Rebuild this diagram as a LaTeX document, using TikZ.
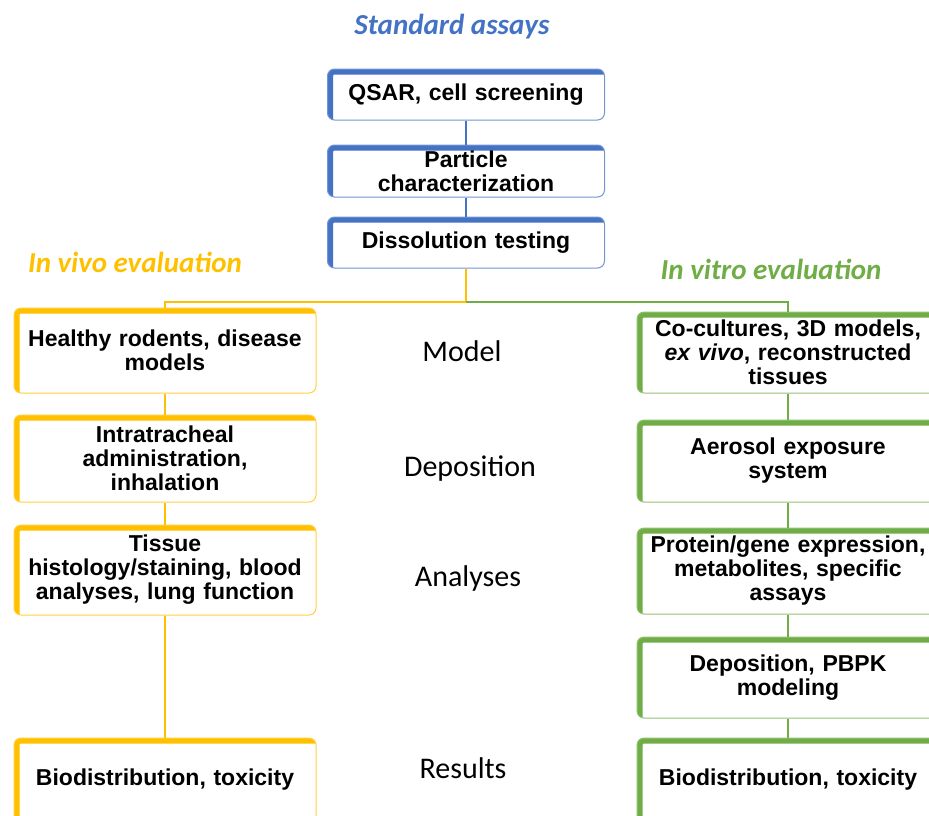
\documentclass[tikz,border=0pt]{standalone}
\usepackage{fontspec}
\setmainfont{Liberation Sans}
\newfontfamily\calibri{Carlito}
\usetikzlibrary{positioning}
\definecolor{assayblue}{HTML}{4472C4}
\definecolor{vivogold}{HTML}{FFC000}
\definecolor{vitrogreen}{HTML}{70AD47}

\tikzset{
  card/.style={draw=#1!75, line width=1pt, rounded corners=7pt, fill=white,
    minimum width=302pt, text width=294pt, align=center, inner sep=2pt,
    font=\bfseries\fontsize{23}{24}\selectfont,
    path picture={\draw[#1, line width=11pt]
      (path picture bounding box.south west) -- (path picture bounding box.north west)
      -- (path picture bounding box.north east);}},
  link/.style={draw=#1, line width=1.5pt},
  stage/.style={font=\calibri\fontsize{30}{32}\selectfont},
  heading/.style={font=\calibri\bfseries\itshape\fontsize{29}{31}\selectfont, text=#1},
}

\begin{document}
\begin{tikzpicture}[x=1pt, y=-1pt]
  \useasboundingbox (0,0) rectangle (929,815);
  \clip (0,0) rectangle (929,815);

  % headings
  \node[heading=assayblue] (stdtitle) at (452,27) {Standard assays};
  \node[heading=vivogold] (vivotitle) at (135,262) {In vivo evaluation};
  \node[heading=vitrogreen] (vitrotitle) at (771,269) {In vitro evaluation};

  % standard assays column
  \node[card=assayblue, minimum width=277pt, text width=270pt, minimum height=51pt]
    (qsar) at (466,94.5) {QSAR, cell screening};
  \node[card=assayblue, minimum width=277pt, text width=270pt, minimum height=52pt]
    (particle) at (466,171) {Particle\\characterization};
  \node[card=assayblue, minimum width=277pt, text width=270pt, minimum height=51pt]
    (dissolution) at (466,242.5) {Dissolution testing};

  % in vivo column
  \node[card=vivogold, minimum height=85pt] (healthy) at (165,350.5)
    {Healthy rodents, disease\\models};
  \node[card=vivogold, minimum height=87pt] (intratracheal) at (165,458.5)
    {Intratracheal\\administration,\\inhalation};
  \node[card=vivogold, minimum height=90pt] (tissue) at (165,570)
    {Tissue\\histology/staining, blood\\analyses, lung function};
  \node[card=vivogold, minimum height=84pt] (vivobio) at (165,780)
    {Biodistribution, toxicity};

  % in vitro column
  \node[card=vitrogreen, minimum height=81pt] (coculture) at (788,352.5)
    {Co-cultures, 3D models,\\\textit{ex vivo}, reconstructed\\tissues};
  \node[card=vitrogreen, minimum height=82pt] (aerosol) at (788,461)
    {Aerosol exposure\\system};
  \node[card=vitrogreen, minimum height=86pt] (protein) at (788,571)
    {Protein/gene expression,\\metabolites, specific\\assays};
  \node[card=vitrogreen, minimum height=81pt] (pbpk) at (788,677.5)
    {Deposition, PBPK\\modeling};
  \node[card=vitrogreen, minimum height=84pt] (vitrobio) at (788,780)
    {Biodistribution, toxicity};

  % stage labels
  \node[stage] (model) at (462,351) {Model};
  \node[stage] (deposition) at (470,469) {Deposition};
  \node[stage] (analyses) at (468,578) {Analyses};
  \node[stage] (results) at (463,768) {Results};

  % connectors
  \coordinate (fork) at (466,302);
  \draw[link=assayblue] (qsar) -- (particle);
  \draw[link=assayblue] (particle) -- (dissolution);
  \draw[link=vivogold] (dissolution) -- (fork) -| (healthy);
  \draw[link=vitrogreen] (fork) -| (coculture);
  \draw[link=vivogold] (healthy) -- (intratracheal);
  \draw[link=vivogold] (intratracheal) -- (tissue);
  \draw[link=vivogold] (tissue) -- (vivobio);
  \draw[link=vitrogreen] (coculture) -- (aerosol);
  \draw[link=vitrogreen] (aerosol) -- (protein);
  \draw[link=vitrogreen] (protein) -- (pbpk);
  \draw[link=vitrogreen] (pbpk) -- (vitrobio);
\end{tikzpicture}
\end{document}
